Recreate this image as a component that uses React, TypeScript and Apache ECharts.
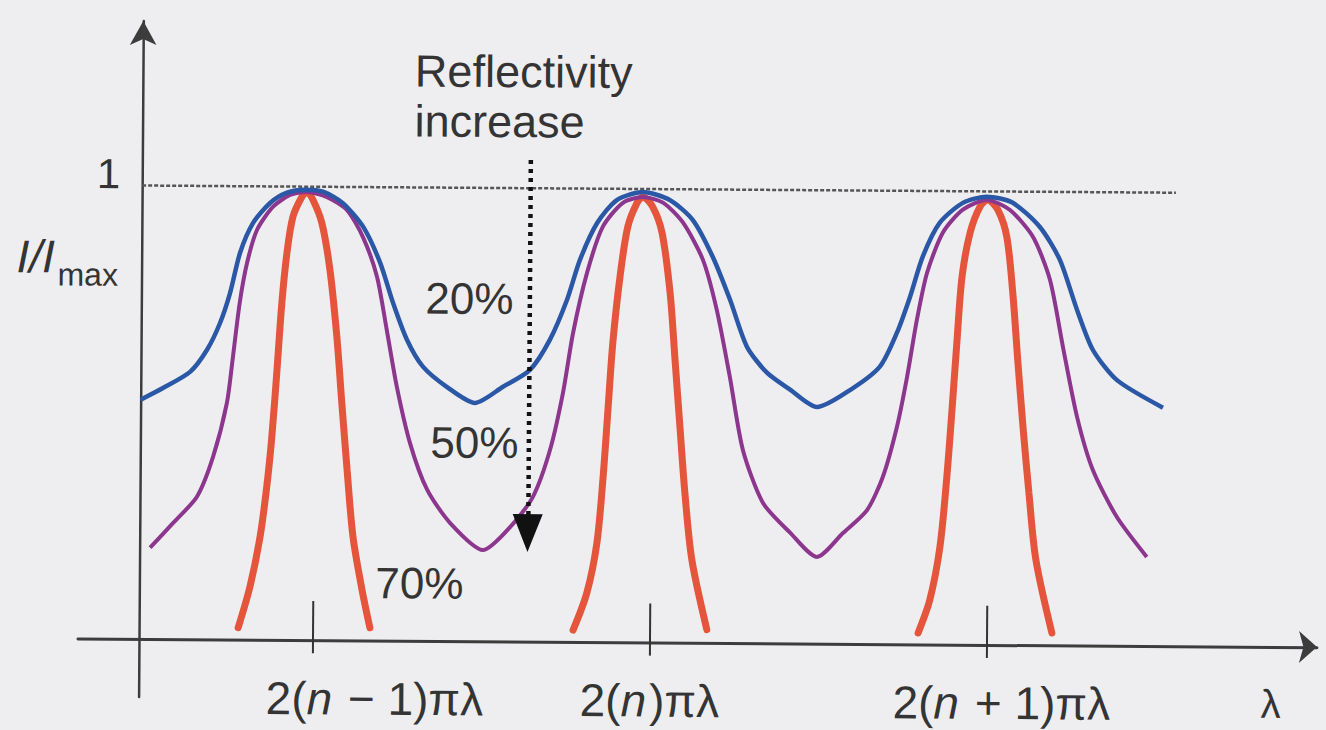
import React, { useEffect, useRef } from "react";
import * as echarts from "echarts";

// x: position along the axis in units of one free spectral range, measured from the y axis
// y: I / Imax
const blue20: [number, number][] = [
  [0.0, 0.527], [0.066, 0.553], [0.146, 0.589], [0.196, 0.638], [0.234, 0.697], [0.263, 0.763],
  [0.292, 0.852], [0.33, 0.918], [0.38, 0.962], [0.43, 0.985], [0.483, 0.992], [0.537, 0.988],
  [0.596, 0.963], [0.657, 0.911], [0.708, 0.832], [0.747, 0.744], [0.789, 0.663], [0.837, 0.604],
  [0.908, 0.56], [0.992, 0.525], [1.075, 0.561], [1.154, 0.598], [1.213, 0.665], [1.263, 0.753],
  [1.301, 0.842], [1.351, 0.923], [1.409, 0.974], [1.486, 0.992], [1.566, 0.975], [1.635, 0.931],
  [1.695, 0.85], [1.747, 0.756], [1.798, 0.653], [1.858, 0.596], [1.927, 0.559], [2.007, 0.521],
  [2.105, 0.559], [2.193, 0.611], [2.243, 0.686], [2.281, 0.765], [2.318, 0.854], [2.368, 0.929],
  [2.436, 0.973], [2.507, 0.987], [2.584, 0.974], [2.665, 0.921], [2.725, 0.849], [2.777, 0.739],
  [2.825, 0.651], [2.897, 0.585], [3.034, 0.525],
];

const purple50: [number, number][] = [
  [0.031, 0.201], [0.099, 0.256], [0.169, 0.314], [0.216, 0.402], [0.256, 0.521], [0.273, 0.623],
  [0.292, 0.742], [0.313, 0.83], [0.342, 0.903], [0.389, 0.954], [0.439, 0.98], [0.489, 0.987],
  [0.549, 0.976], [0.608, 0.948], [0.656, 0.889], [0.699, 0.801], [0.729, 0.684], [0.76, 0.559],
  [0.8, 0.436], [0.852, 0.333], [0.921, 0.26], [1.019, 0.201], [1.099, 0.252], [1.166, 0.319],
  [1.216, 0.423], [1.253, 0.548], [1.282, 0.681], [1.322, 0.813], [1.368, 0.915], [1.427, 0.968],
  [1.486, 0.981], [1.546, 0.969], [1.606, 0.925], [1.666, 0.843], [1.708, 0.733], [1.748, 0.586],
  [1.788, 0.426], [1.849, 0.309], [1.93, 0.244], [2.01, 0.191], [2.087, 0.244], [2.158, 0.295],
  [2.204, 0.368], [2.245, 0.479], [2.274, 0.589], [2.302, 0.715], [2.331, 0.818], [2.377, 0.907],
  [2.436, 0.958], [2.507, 0.98], [2.576, 0.958], [2.645, 0.899], [2.696, 0.805], [2.736, 0.657],
  [2.779, 0.504], [2.827, 0.387], [2.899, 0.284], [2.989, 0.196],
];

const orange70First: [number, number][] = [
  [0.294, 0.026], [0.328, 0.116], [0.357, 0.226], [0.376, 0.337], [0.39, 0.447], [0.404, 0.595],
  [0.417, 0.742], [0.431, 0.852], [0.448, 0.932], [0.474, 0.976], [0.489, 0.987], [0.507, 0.97],
  [0.534, 0.919], [0.559, 0.816], [0.581, 0.668], [0.597, 0.523], [0.614, 0.376], [0.633, 0.228],
  [0.661, 0.111], [0.685, 0.028],
];
const orange70Second: [number, number][] = [
  [1.288, 0.026], [1.328, 0.108], [1.357, 0.219], [1.374, 0.364], [1.387, 0.512], [1.4, 0.659],
  [1.42, 0.805], [1.442, 0.915], [1.469, 0.968], [1.486, 0.981], [1.516, 0.959], [1.544, 0.902],
  [1.569, 0.77], [1.585, 0.623], [1.601, 0.475], [1.617, 0.33], [1.639, 0.183], [1.685, 0.029],
];
const orange70Third: [number, number][] = [
  [2.312, 0.025], [2.346, 0.098], [2.375, 0.215], [2.394, 0.369], [2.408, 0.517], [2.421, 0.665],
  [2.435, 0.81], [2.458, 0.907], [2.487, 0.965], [2.51, 0.98], [2.54, 0.958], [2.567, 0.899],
  [2.586, 0.775], [2.602, 0.628], [2.619, 0.481], [2.638, 0.335], [2.66, 0.188], [2.709, 0.027],
];

const tickValues = [0.516, 1.516, 2.516];
const tickLabels = ["2(n − 1)πλ", "2(n)πλ", "2(n + 1)πλ"];
const yTickValues = [1];
const yTickLabels = ["1"];
const seriesNames = ["20%", "50%", "70%"];

// annotation: reference level, tick stubs below the axis and the "reflectivity increase" arrow
const unityLevel = 1;
const unityLineEnd = 3.068;
const tickStubBottom = -0.029;
const arrowX = 1.151;
const arrowTop = 1.061;
const arrowBottom = 0.239;

const X_MIN = -0.181;
const X_MAX = 3.496;
const Y_MIN = -0.128;
const Y_MAX = 1.361;

const FONT = "'Liberation Sans', Arial, Helvetica, sans-serif";
const TEXT = "#343434";
const BG = "#eeeef0";
const BLUE = "#2b58a6";
const PURPLE = "#8c368e";
const ORANGE = "#e4553b";
const AXIS = "#3c3c3c";

const labelPad = [124, 0, 30];

function richLabel(label: string, i: number): string {
  const pos = label.indexOf("n");
  const before = label.slice(0, pos);
  const after = label.slice(pos + 1);
  return `{p${i}|${before}}{n|n}{t|${after}}`;
}

function buildOption(): any {
  const baseText = { fontSize: 46, fontFamily: FONT, color: TEXT };
  const rich: any = {
    t: { ...baseText },
    n: { ...baseText, fontStyle: "italic", padding: [0, 3, 0, 0] },
  };
  labelPad.forEach((p, i) => {
    rich["p" + i] = { ...baseText, padding: [0, 0, 0, p] };
  });

  const orangeStyle = { color: ORANGE, width: 7, cap: "round" as const };

  return {
    animation: false,
    backgroundColor: "transparent",
    grid: { left: 78, right: 9, top: 21, bottom: 33, containLabel: false, outerBoundsMode: "none" },
    xAxis: {
      type: "value",
      position: "bottom",
      min: X_MIN,
      max: X_MAX,
      axisLine: {
        show: true,
        onZero: true,
        symbol: ["none", "arrow"],
        symbolSize: [24, 18],
        lineStyle: { color: AXIS, width: 3 },
      },
      axisTick: {
        show: true,
        customValues: tickValues,
        inside: true,
        length: 39,
        lineStyle: { color: "#333", width: 2 },
      },
      axisLabel: {
        show: true,
        customValues: tickValues,
        margin: -23,
        formatter: (v: number) => {
          const i = tickValues.indexOf(v);
          return i >= 0 ? richLabel(tickLabels[i], i) : "";
        },
        rich,
      },
      splitLine: { show: false },
    },
    yAxis: {
      type: "value",
      min: Y_MIN,
      max: Y_MAX,
      axisLine: {
        show: true,
        onZero: true,
        symbol: ["none", "arrow"],
        symbolSize: [20, 24],
        lineStyle: { color: AXIS, width: 2.5 },
      },
      axisTick: { show: false },
      axisLabel: {
        show: true,
        customValues: yTickValues,
        margin: -39,
        fontSize: 42,
        fontFamily: FONT,
        color: TEXT,
        verticalAlign: "bottom",
        lineHeight: 22,
        formatter: (v: number) => {
          const i = yTickValues.indexOf(v);
          return i >= 0 ? yTickLabels[i] : "";
        },
      },
      splitLine: { show: false },
    },
    series: [
      {
        type: "line",
        name: seriesNames[2],
        data: orange70First,
        showSymbol: false,
        symbol: "none",
        smooth: 0.3,
        lineStyle: orangeStyle,
        z: 2,
        markLine: {
          silent: true,
          z: 1,
          symbol: "none",
          label: { show: false },
          lineStyle: { color: "#555", width: 2.5, type: [4, 2] },
          data: [
            [{ coord: [0, unityLevel] }, { coord: [unityLineEnd, unityLevel] }],
            ...tickValues.map((t) => [
              { coord: [t, 0], lineStyle: { color: "#333", width: 2, type: "solid" } },
              { coord: [t, tickStubBottom] },
            ]),
          ],
        },
      },
      {
        type: "line",
        name: seriesNames[2],
        data: orange70Second,
        showSymbol: false,
        symbol: "none",
        smooth: 0.3,
        lineStyle: orangeStyle,
        z: 2,
      },
      {
        type: "line",
        name: seriesNames[2],
        data: orange70Third,
        showSymbol: false,
        symbol: "none",
        smooth: 0.3,
        lineStyle: orangeStyle,
        z: 2,
      },
      {
        type: "line",
        name: seriesNames[1],
        data: purple50,
        showSymbol: false,
        symbol: "none",
        smooth: 0.25,
        lineStyle: { color: PURPLE, width: 4 },
        z: 3,
      },
      {
        type: "line",
        name: seriesNames[0],
        data: blue20,
        showSymbol: false,
        symbol: "none",
        smooth: 0.25,
        lineStyle: { color: BLUE, width: 4.5 },
        z: 4,
        markLine: {
          silent: true,
          z: 6,
          symbol: ["none", "triangle"],
          symbolSize: [30, 38],
          label: { show: false },
          lineStyle: { color: "#111", width: 4.5, type: [4, 5] },
          data: [[{ coord: [arrowX, arrowTop] }, { coord: [arrowX, arrowBottom] }]],
        },
      },
    ],
    graphic: [
      {
        type: "text", x: 411, y: 44,
        style: {
          text: "Reflectivity\nincrease", fontSize: 45, lineHeight: 50, fontFamily: FONT, fill: TEXT,
          align: "left", verticalAlign: "top",
        },
      },
      {
        type: "text", x: 423, y: 296,
        style: { text: seriesNames[0], fontSize: 44, fontFamily: FONT, fill: TEXT, align: "left", verticalAlign: "middle" },
      },
      {
        type: "text", x: 429, y: 440,
        style: { text: seriesNames[1], fontSize: 44, fontFamily: FONT, fill: TEXT, align: "left", verticalAlign: "middle" },
      },
      {
        type: "text", x: 375, y: 581,
        style: { text: seriesNames[2], fontSize: 44, fontFamily: FONT, fill: TEXT, align: "left", verticalAlign: "middle" },
      },
      {
        type: "text", x: 14, y: 257,
        style: { text: "I/I", fontSize: 46, fontStyle: "italic", fontFamily: FONT, fill: TEXT, align: "left", verticalAlign: "middle" },
      },
      {
        type: "text", x: 55, y: 275,
        style: { text: "max", fontSize: 32, fontFamily: FONT, fill: TEXT, align: "left", verticalAlign: "middle" },
      },
      {
        type: "text", x: 1271, y: 696,
        style: { text: "λ", fontSize: 40, fontFamily: FONT, fill: TEXT, align: "center", verticalAlign: "middle" },
      },
    ],
  };
}

export default function App() {
  const ref = useRef<HTMLDivElement>(null);
  useEffect(() => {
    if (!ref.current) return;
    const chart = echarts.init(ref.current, null, { renderer: "svg" });
    chart.setOption(buildOption());
    return () => chart.dispose();
  }, []);
  return (
    <div
      style={{
        position: "fixed",
        left: 0,
        top: 0,
        width: "100vw",
        height: "100vh",
        overflow: "hidden",
        background: BG,
      }}
    >
      <div
        ref={ref}
        style={{
          position: "absolute",
          left: 0,
          top: 0,
          width: 1326,
          height: 730,
          transform: "rotate(0.4deg)",
          transformOrigin: "139px 639px",
        }}
      />
    </div>
  );
}
